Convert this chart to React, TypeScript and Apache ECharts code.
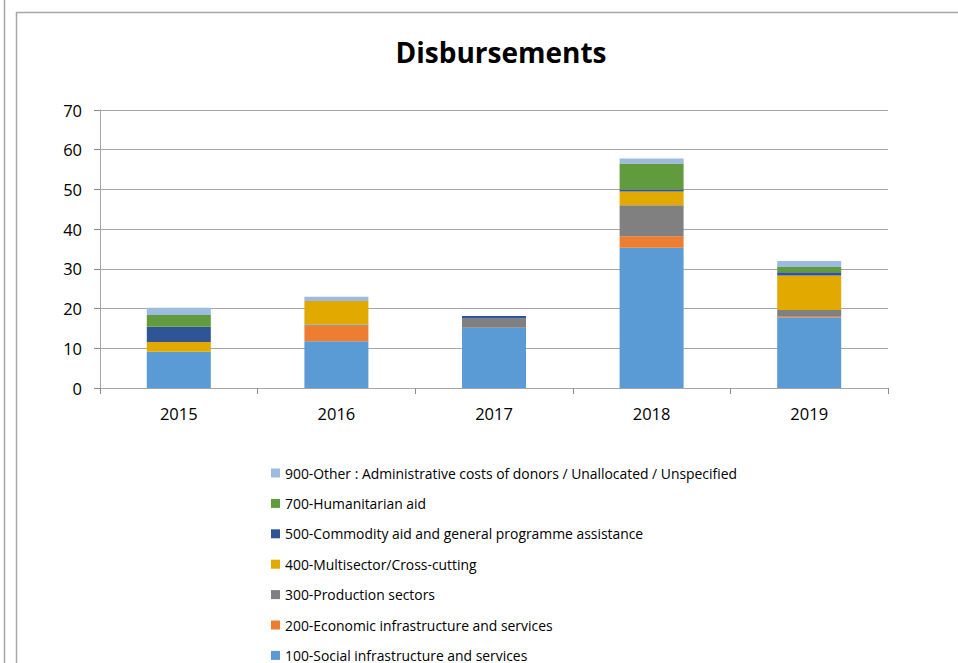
import React, { useEffect, useRef } from "react";
import * as echarts from "echarts";

const years = ["2015", "2016", "2017", "2018", "2019"];
const seriesNames = [
  "100-Social infrastructure and services",
  "200-Economic infrastructure and services",
  "300-Production sectors",
  "400-Multisector/Cross-cutting",
  "500-Commodity aid and general programme assistance",
  "700-Humanitarian aid",
  "900-Other : Administrative costs of donors / Unallocated / Unspecified",
];
const social = [9.1, 11.8, 15.2, 35.3, 17.7];
const economic = [0, 3.9, 0, 2.9, 0.25];
const production = [0, 0.3, 2.3, 7.8, 1.7];
const multisector = [2.5, 5.9, 0, 3.5, 8.7];
const commodity = [3.8, 0, 0.6, 0.5, 0.8];
const humanitarian = [3.0, 0, 0, 6.5, 1.3];
const other = [1.8, 1.1, 0, 1.3, 1.5];
const seriesValues = [social, economic, production, multisector, commodity, humanitarian, other];
const colors = ["#5B9BD5", "#ED7D31", "#808080", "#E2AA00", "#2F5597", "#629B3E", "#9DBAE1"];
const yTicks = [0, 10, 20, 30, 40, 50, 60, 70];

const FONT = "'Open Sans', 'Noto Sans', sans-serif";

export default function App() {
  const ref = useRef<HTMLDivElement>(null);
  useEffect(() => {
    if (!ref.current) return;
    const chart = echarts.init(ref.current, undefined, { renderer: "svg" });
    chart.setOption({
      animation: false,
      backgroundColor: "#ffffff",
      title: {
        text: "Disbursements",
        left: 496,
        textAlign: "center",
        top: 33,
        textStyle: { fontFamily: FONT, fontSize: 28, fontWeight: "bold", color: "#000" },
      },
      graphic: [
        { type: "line", shape: { x1: 4.5, y1: 0, x2: 4.5, y2: 663 }, style: { stroke: "#A6A6A6", lineWidth: 1.5 } },
        { type: "rect", shape: { x: 16.5, y: 12.5, width: 1000, height: 700 }, style: { fill: "none", stroke: "#A6A6A6", lineWidth: 1.5 } },
      ],
      grid: { left: 100, right: 70, top: 110, bottom: 275, containLabel: false },
      legend: {
        orient: "vertical",
        left: 266,
        top: 461,
        height: 260,
        icon: "rect",
        itemWidth: 9,
        itemHeight: 9,
        itemGap: 16.4,
        data: [...seriesNames].reverse(),
        textStyle: { fontFamily: FONT, fontSize: 13.9, lineHeight: 14, color: "#000" },
      },
      xAxis: {
        type: "category",
        data: years,
        axisLine: { lineStyle: { color: "#A6A6A6", width: 1 } },
        axisTick: { show: true, length: 6, lineStyle: { color: "#8C8C8C" } },
        axisLabel: { fontFamily: FONT, fontSize: 16.5, color: "#000", margin: 17 },
      },
      yAxis: {
        type: "value",
        min: yTicks[0],
        max: yTicks[yTicks.length - 1],
        interval: 10,
        axisLine: { show: true, lineStyle: { color: "#A6A6A6" } },
        axisTick: { show: true, length: 6, lineStyle: { color: "#8C8C8C" } },
        splitLine: { lineStyle: { color: "#A6A6A6", width: 1 } },
        axisLabel: { fontFamily: FONT, fontSize: 16.5, color: "#000", margin: 18 },
      },
      series: seriesNames.map((name, i) => ({
        name,
        type: "bar",
        stack: "total",
        barWidth: 64,
        data: seriesValues[i],
        itemStyle: { color: colors[i] },
      })),
    });
    return () => chart.dispose();
  }, []);
  return (
    <div
      ref={ref}
      style={{ position: "fixed", left: 0, top: 0, width: 958, height: 663 }}
    />
  );
}
